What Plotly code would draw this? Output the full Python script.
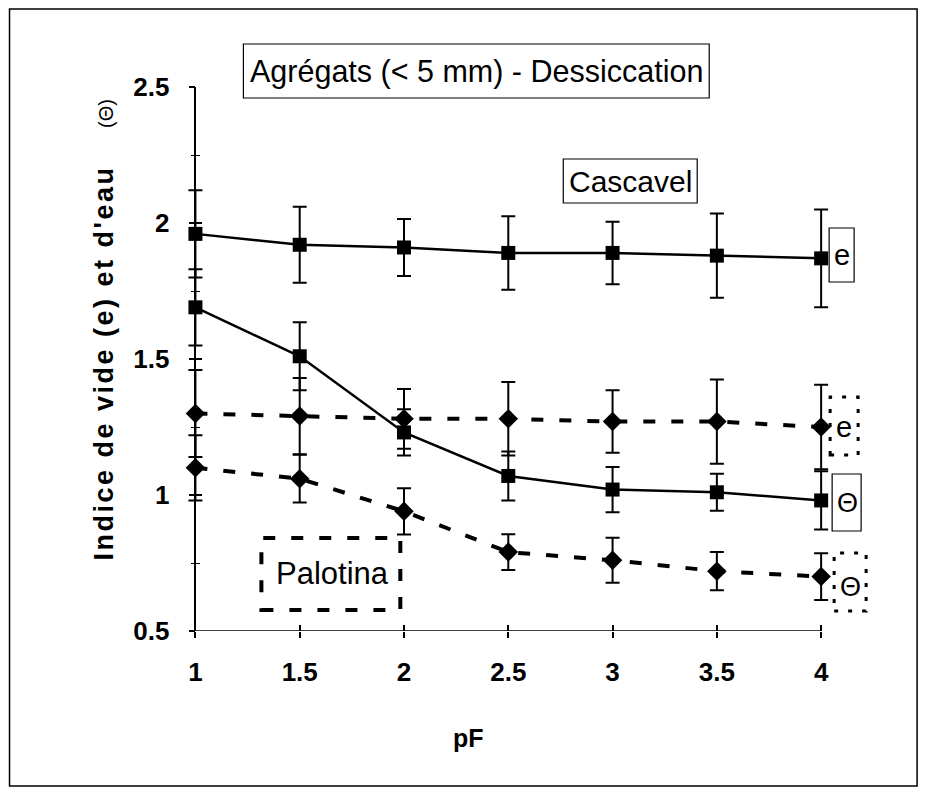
import plotly.graph_objects as go

pF = [1, 1.5, 2, 2.5, 3, 3.5, 4]
cas_e = [1.96, 1.92, 1.91, 1.89, 1.89, 1.88, 1.87]
cas_e_err = [0.16, 0.14, 0.105, 0.135, 0.115, 0.155, 0.18]
cas_t = [1.69, 1.51, 1.23, 1.07, 1.02, 1.01, 0.98]
cas_t_err = [0.14, 0.125, 0.085, 0.09, 0.083, 0.068, 0.107]
pal_e = [1.30, 1.29, 1.28, 1.28, 1.27, 1.27, 1.25]
pal_e_err = [0.16, 0.14, 0.11, 0.135, 0.115, 0.155, 0.155]
pal_t = [1.10, 1.06, 0.94, 0.79, 0.76, 0.72, 0.70]
pal_t_err = [0.12, 0.088, 0.085, 0.066, 0.083, 0.07, 0.086]

x_ticks = [1, 1.5, 2, 2.5, 3, 3.5, 4]
y_ticks = [0.5, 1, 1.5, 2, 2.5]

# plotted x range is padded a little so error-bar caps at pF=1 and pF=4
# are not clipped; the visible x axis line runs only from 1 to 4
X0, X1 = 0.95, 4.1
Y0, Y1 = 0.5, 2.5

OFF = 8  # page body margin
W, H = 918, 786
UX = (821 - 195) / 3.0          # px per pF unit in the reference
AX_L, AX_R = 195 - OFF, 821 - OFF
AX_T, AX_B = 87 - OFF, 631 - OFF
L = AX_L - (1 - X0) * UX
Rr = AX_R + (X1 - 4) * UX
T, Bb = AX_T, AX_B
PW, PH = Rr - L, Bb - T
ML, MR, MT, MB = L, W - Rr, T, H - Bb


def px(x):
    return (x - OFF - L) / PW


def py(y):
    return (Bb - (y - OFF)) / PH


YPOS = (1 - X0) / (X1 - X0)

FONT = "Liberation Sans, Arial, sans-serif"

fig = go.Figure()


def err(vals):
    return dict(type="data", array=vals, visible=True, color="black",
                thickness=2, width=7)


fig.add_trace(go.Scatter(x=pF, y=cas_e, mode="lines+markers", cliponaxis=False,
                         line=dict(color="black", width=2.5),
                         marker=dict(symbol="square", size=14, color="black"),
                         error_y=err(cas_e_err), showlegend=False))
fig.add_trace(go.Scatter(x=pF, y=cas_t, mode="lines+markers", cliponaxis=False,
                         line=dict(color="black", width=2.5),
                         marker=dict(symbol="square", size=14, color="black"),
                         error_y=err(cas_t_err), showlegend=False))
fig.add_trace(go.Scatter(x=pF, y=pal_e, mode="lines+markers", cliponaxis=False,
                         line=dict(color="black", width=4, dash="12px,16px"),
                         marker=dict(symbol="diamond", size=15, color="black"),
                         error_y=err(pal_e_err), showlegend=False))
fig.add_trace(go.Scatter(x=pF, y=pal_t, mode="lines+markers", cliponaxis=False,
                         line=dict(color="black", width=4, dash="12px,16px"),
                         marker=dict(symbol="diamond", size=15, color="black"),
                         error_y=err(pal_t_err), showlegend=False))
# invisible trace so the overlay axes (inside ticks -> crossing ticks) are drawn
fig.add_trace(go.Scatter(x=[None], y=[None], xaxis="x2", yaxis="y2",
                         showlegend=False, hoverinfo="skip"))

fig.update_layout(
    width=W, height=H,
    margin=dict(l=ML, r=MR, t=MT, b=MB),
    paper_bgcolor="white", plot_bgcolor="white",
    font=dict(family=FONT, color="black"),
    xaxis=dict(range=[X0, X1], tickvals=x_ticks,
               ticktext=[("%g" % v) for v in x_ticks],
               showline=False,
               ticks="outside", ticklen=6, tickwidth=1.5, tickcolor="black",
               showgrid=False, zeroline=False,
               ticklabelstandoff=12,
               tickfont=dict(size=26, family=FONT, weight="bold")),
    yaxis=dict(range=[Y0, Y1], tickvals=y_ticks,
               ticktext=[("%g" % v) for v in y_ticks],
               anchor="free", position=YPOS,
               showline=True, linecolor="black", linewidth=1.5,
               ticks="outside", ticklen=6, tickwidth=1.5, tickcolor="black",
               minor=dict(ticks="outside", dtick=0.25, ticklen=4,
                          tickcolor="black", tickwidth=1),
               showgrid=False, zeroline=False,
               ticklabelstandoff=14,
               tickfont=dict(size=26, family=FONT, weight="bold")),
    xaxis2=dict(range=[X0, X1], overlaying="x", anchor="y2", side="bottom",
                tickvals=x_ticks, ticks="inside", ticklen=6, tickwidth=1.5,
                tickcolor="black", showticklabels=False, showgrid=False,
                zeroline=False, showline=False),
    yaxis2=dict(range=[Y0, Y1], overlaying="y", anchor="free", position=YPOS,
                side="left",
                tickvals=y_ticks, ticks="inside", ticklen=6, tickwidth=1.5,
                tickcolor="black", showticklabels=False, showgrid=False,
                zeroline=False, showline=False,
                minor=dict(ticks="inside", dtick=0.25, ticklen=4,
                           tickcolor="black", tickwidth=1)),
)

shapes = [
    # x axis line, from pF = 1 to pF = 4 only
    dict(type="line", xref="x", yref="y", x0=x_ticks[0], x1=x_ticks[-1],
         y0=Y0, y1=Y0, line=dict(color="black", width=1.5), layer="above"),
]


def rect(x0, y0, x1, y1, dash="solid", width=1.2):
    shapes.append(dict(type="rect", xref="paper", yref="paper",
                       x0=px(x0), x1=px(x1), y0=py(y1), y1=py(y0),
                       line=dict(color="black", width=width, dash=dash),
                       fillcolor="rgba(0,0,0,0)", layer="above"))


rect(9, 9, 917, 786, width=1.5)             # outer frame
rect(243, 44, 709, 98)                      # title box
rect(563, 159, 697, 203)                    # Cascavel box
rect(829, 228, 854, 282)                    # e (Cascavel)
rect(830, 397, 858, 455, dash="4px,10px", width=3)   # e (Palotina)
rect(832, 474, 861, 531)                    # Theta (Cascavel)
rect(834, 553, 866, 611, dash="4px,10px", width=3)   # Theta (Palotina)
rect(261, 538, 400, 610, dash="12px,16px", width=4)  # Palotina box
fig.update_layout(shapes=shapes)

annos = []


def text(x, y, s, size=28, bold=False, angle=0):
    annos.append(dict(xref="paper", yref="paper", x=px(x), y=py(y), text=s,
                      showarrow=False, xanchor="center", yanchor="middle",
                      textangle=angle,
                      font=dict(size=size, family=FONT, color="black",
                                weight="bold" if bold else "normal")))


text(476, 71, "Agrégats (< 5 mm) - Dessiccation", size=30.5)
text(630, 181, "Cascavel", size=30)
text(842, 255, "e", size=29)
text(844, 427, "e", size=29)
text(847, 503, "Θ", size=27)
text(850, 587, "Θ", size=27)
text(332, 573, "Palotina", size=31)
text(468, 738, "pF", size=25, bold=True)
text(104, 330,
     "<span style='letter-spacing:2.5px'>Indice de vide (e) et d'eau</span>"
     "     <span style='font-size:20px;font-weight:normal'>(Θ)</span>",
     size=27, bold=True, angle=-90)
fig.update_layout(annotations=annos)

fig.write_html("out.html")
